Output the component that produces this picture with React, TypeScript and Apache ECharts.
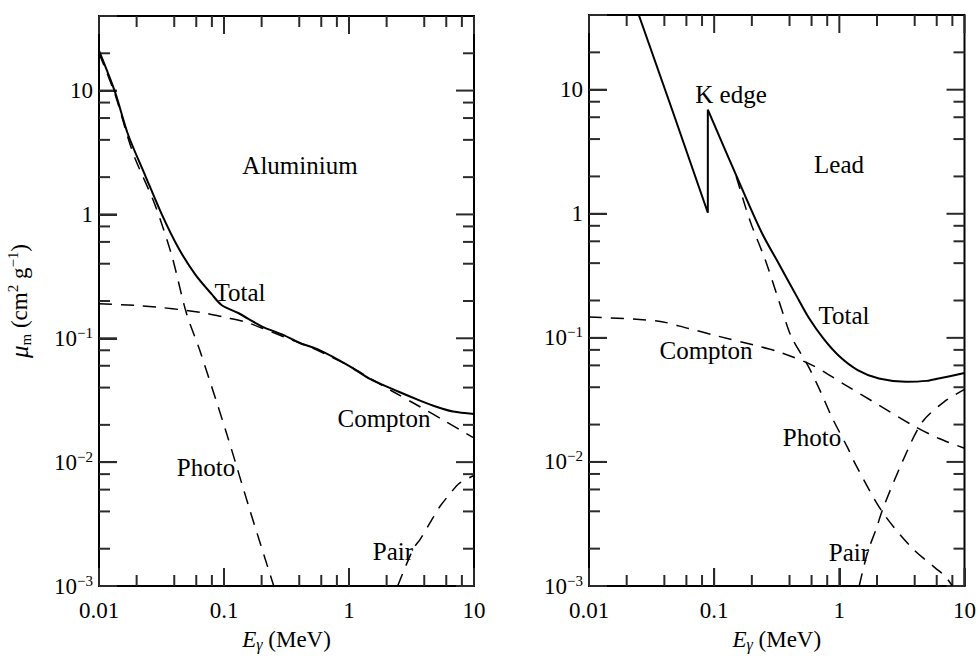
import React, { useEffect, useRef } from 'react';
import * as echarts from 'echarts';

// ---------- tick values ----------
const xMajorTicks = [0.01, 0.1, 1, 10];
const xMinorTicks = [0.02, 0.04, 0.06, 0.08, 0.2, 0.4, 0.6, 0.8, 2, 4, 6, 8];
const yMajorTicks = [0.001, 0.01, 0.1, 1, 10];
const yMinorTicks = [
  0.002, 0.004, 0.006, 0.008,
  0.02, 0.04, 0.06, 0.08,
  0.2, 0.4, 0.6, 0.8,
  2, 4, 6, 8, 20,
];
const X_MIN = 0.01;
const X_MAX = 10;
const Y_MIN = 0.001;
const Y_MAX = 40;

// ---------- Aluminium (E in MeV, mu_m in cm^2/g) ----------
const alTotal = [
  [0.01, 21], [0.0134, 9.8], [0.0171, 4.4], [0.0233, 2.09], [0.0318, 1.0],
  [0.043, 0.54], [0.0586, 0.33], [0.0797, 0.227], [0.096, 0.185], [0.13, 0.16],
  [0.2, 0.125], [0.3, 0.106], [0.4, 0.092], [0.586, 0.08], [1.0, 0.06],
  [1.47, 0.047], [2.5, 0.037], [3.7, 0.0314], [5.0, 0.028], [6.8, 0.0256], [10, 0.0245],
];
const alPhoto = [
  [0.01, 20], [0.0134, 9.4], [0.017, 4.2], [0.0194, 2.84], [0.028, 1.2],
  [0.038, 0.475], [0.05, 0.16], [0.064, 0.08], [0.105, 0.017], [0.161, 0.0041], [0.25, 0.001],
];
const alCompton = [
  [0.01, 0.19], [0.02, 0.184], [0.03, 0.178], [0.05, 0.168], [0.07, 0.16],
  [0.1, 0.148], [0.15, 0.135], [0.2, 0.121], [0.3, 0.103], [0.5, 0.084],
  [1, 0.06], [1.5, 0.047], [2.26, 0.037], [3.7, 0.028], [5.7, 0.0218], [8.7, 0.017], [10, 0.0157],
];
const alPair = [
  [2.45, 0.001], [3.27, 0.002], [3.7, 0.00237], [4.73, 0.0036], [5.35, 0.0044],
  [6.84, 0.006], [7.7, 0.0068], [10, 0.0078],
];

// ---------- Lead ----------
const pbTotalBelowEdge = [[0.025, 40], [0.0466, 6.7], [0.089, 1.02], [0.089, 6.9]];
const pbTotalAboveEdge = [
  [0.089, 6.9], [0.159, 1.78], [0.239, 0.71], [0.331, 0.39], [0.45, 0.222],
  [0.57, 0.145], [0.75, 0.098], [1.0, 0.071], [1.4, 0.055], [2.07, 0.047],
  [3.4, 0.0443], [5, 0.045], [6.2, 0.047], [10, 0.052],
];
const pbPhoto = [
  [0.15, 2.0], [0.18, 1.09], [0.2, 0.8], [0.26, 0.406], [0.374, 0.134],
  [0.42, 0.0986], [0.56, 0.06], [0.69, 0.039], [0.88, 0.0225], [1.17, 0.0129],
  [1.35, 0.0095], [2.19, 0.004], [3.8, 0.00203], [5.83, 0.0014], [7.0, 0.0012], [8, 0.001],
];
const pbCompton = [
  [0.01, 0.147], [0.035, 0.137], [0.0625, 0.119], [0.1, 0.105], [0.212, 0.087],
  [0.33, 0.077], [0.61, 0.06], [1.12, 0.0416], [2.07, 0.0287], [3.8, 0.0199],
  [6.2, 0.0155], [10, 0.0129],
];
const pbPair = [
  [1.44, 0.001], [1.69, 0.0019], [1.95, 0.0028], [2.25, 0.0043], [3.2, 0.0101],
  [4.6, 0.021], [6.9, 0.0306], [10, 0.0385],
];

// ---------- annotation labels ----------
const alLabels = [
  { text: 'Aluminium', x: 300, y: 165 },
  { text: 'Total', x: 240, y: 292 },
  { text: 'Compton', x: 384, y: 418 },
  { text: 'Photo', x: 206, y: 467 },
  { text: 'Pair', x: 393, y: 551 },
];
const pbLabels = [
  { text: 'K edge', x: 731, y: 94 },
  { text: 'Lead', x: 839, y: 164 },
  { text: 'Total', x: 844, y: 315 },
  { text: 'Compton', x: 706, y: 350 },
  { text: 'Photo', x: 812, y: 437 },
  { text: 'Pair', x: 849, y: 552 },
];

const FONT = 'Liberation Serif';
const INK = '#000';
const TICK = '#2b2b2b';

function isDecade(v: number) {
  const e = Math.log10(v);
  return Math.abs(e - Math.round(e)) < 1e-6;
}
function fmtX(v: number) {
  if (!isDecade(v)) return '';
  return String(Number(v.toPrecision(3)));
}
function fmtY(v: number) {
  if (!isDecade(v)) return '';
  const e = Math.round(Math.log10(v));
  if (e === 1) return '10';
  if (e === 0) return '1';
  return '{b|10}{s|\u2212' + Math.abs(e) + '}';
}

const yRich = {
  b: { fontFamily: FONT, fontSize: 23, color: INK, lineHeight: 26 },
  s: { fontFamily: FONT, fontSize: 15, color: INK, lineHeight: 15, verticalAlign: 'top' },
};

function xAxis(g: number) {
  return {
    type: 'log', min: X_MIN, max: X_MAX, gridIndex: g, position: 'bottom',
    splitLine: { show: false },
    axisLine: { show: true, lineStyle: { color: INK, width: 2 } },
    axisTick: { show: true, inside: true, length: 18, lineStyle: { color: TICK, width: 2 } },
    axisLabel: { show: true, margin: 13, color: INK, fontFamily: FONT, fontSize: 23, formatter: fmtX },
    name: '{e|E}{g|\u03b3}{n| (MeV)}',
    nameLocation: 'middle',
    nameGap: 40,
    nameTextStyle: {
      rich: {
        e: { fontFamily: FONT, fontSize: 23, fontStyle: 'italic', color: INK, lineHeight: 26 },
        g: { fontFamily: FONT, fontSize: 16, fontStyle: 'italic', color: INK, lineHeight: 16, verticalAlign: 'bottom' },
        n: { fontFamily: FONT, fontSize: 23, color: INK, lineHeight: 26 },
      },
    },
  };
}

function yAxis(g: number, withName: boolean) {
  return {
    type: 'log', min: Y_MIN, max: Y_MAX, gridIndex: g, position: 'left',
    splitLine: { show: false },
    axisLine: { show: true, lineStyle: { color: INK, width: 2 } },
    axisTick: { show: true, inside: true, length: 18, lineStyle: { color: TICK, width: 2 } },
    axisLabel: { show: true, margin: 6, color: INK, fontFamily: FONT, fontSize: 23, formatter: fmtY, rich: yRich },
    ...(withName
      ? {
          name: '{mu|\u03bc}{sub|m}{n| (cm}{sup|2}{n| g}{sup|\u22121}{n|)}',
          nameLocation: 'middle',
          nameGap: 66,
          nameRotate: 90,
          nameTextStyle: {
            rich: {
              mu: { fontFamily: FONT, fontSize: 25, fontStyle: 'italic', color: INK, lineHeight: 28 },
              sub: { fontFamily: FONT, fontSize: 15, color: INK, lineHeight: 15, verticalAlign: 'bottom' },
              sup: { fontFamily: FONT, fontSize: 15, color: INK, lineHeight: 15, verticalAlign: 'top' },
              n: { fontFamily: FONT, fontSize: 23, color: INK, lineHeight: 28 },
            },
          },
        }
      : {}),
  };
}

// Tick marks on all four frame sides, positioned through the axis scales.
function xTickSeries(g: number, values: number[], len: number) {
  return {
    type: 'custom',
    xAxisIndex: g,
    yAxisIndex: g,
    data: values.map((v) => [v, 1]),
    renderItem: (_p: any, api: any) => {
      const v = api.value(0);
      const b = api.coord([v, Y_MIN]);
      const t = api.coord([v, Y_MAX]);
      return {
        type: 'group',
        children: [
          { type: 'rect', shape: { x: b[0] - 1, y: b[1] - len, width: 2, height: len }, style: { fill: TICK } },
          { type: 'rect', shape: { x: t[0] - 1, y: t[1], width: 2, height: len }, style: { fill: TICK } },
        ],
      };
    },
  };
}
function yTickSeries(g: number, values: number[], len: number) {
  return {
    type: 'custom',
    xAxisIndex: g,
    yAxisIndex: g,
    data: values.map((v) => [1, v]),
    renderItem: (_p: any, api: any) => {
      const v = api.value(1);
      const l = api.coord([X_MIN, v]);
      const r = api.coord([X_MAX, v]);
      return {
        type: 'group',
        children: [
          { type: 'rect', shape: { x: l[0], y: l[1] - 1, width: len, height: 2 }, style: { fill: TICK } },
          { type: 'rect', shape: { x: r[0] - len, y: r[1] - 1, width: len, height: 2 }, style: { fill: TICK } },
        ],
      };
    },
  };
}

function curve(data: number[][], g: number, dashed: boolean, smooth: number | boolean = 0.3) {
  return {
    type: 'line',
    xAxisIndex: g,
    yAxisIndex: g,
    data,
    showSymbol: false,
    symbol: 'none',
    smooth,
    clip: true,
    lineStyle: dashed
      ? { color: INK, width: 1.5, type: [13, 9] }
      : { color: INK, width: 2 },
  };
}

function labelGraphics(list: { text: string; x: number; y: number }[]) {
  return list.map((l) => ({
    type: 'text',
    x: l.x,
    y: l.y,
    style: {
      text: l.text,
      fill: INK,
      fontFamily: FONT,
      fontSize: 25,
      textAlign: 'center',
      textVerticalAlign: 'middle',
    },
  }));
}

export default function App() {
  const ref = useRef<HTMLDivElement>(null);
  useEffect(() => {
    if (!ref.current) return;
    const chart = echarts.init(ref.current, undefined, { renderer: 'svg' });
    const series: any[] = [
      curve(alTotal, 0, false),
      curve(alPhoto, 0, true),
      curve(alCompton, 0, true),
      curve(alPair, 0, true),
      curve(pbTotalBelowEdge, 1, false, false),
      curve(pbTotalAboveEdge, 1, false),
      curve(pbPhoto, 1, true),
      curve(pbCompton, 1, true),
      curve(pbPair, 1, true),
    ];
    [0, 1].forEach((g) => {
      series.push(xTickSeries(g, xMajorTicks, 18));
      series.push(xTickSeries(g, xMinorTicks, 11));
      series.push(yTickSeries(g, yMajorTicks, 18));
      series.push(yTickSeries(g, yMinorTicks, 11));
    });
    chart.setOption({
      animation: false,
      backgroundColor: '#fff',
      grid: [
        { left: 99, top: 16, width: 375, height: 573, show: true, borderColor: INK, borderWidth: 2, backgroundColor: 'transparent' },
        { left: 589, top: 15, width: 377, height: 573, show: true, borderColor: INK, borderWidth: 2, backgroundColor: 'transparent' },
      ],
      xAxis: [xAxis(0), xAxis(1)],
      yAxis: [yAxis(0, true), yAxis(1, false)],
      series,
      graphic: [...labelGraphics(alLabels), ...labelGraphics(pbLabels)],
    });
    return () => chart.dispose();
  }, []);
  return (
    <div
      ref={ref}
      style={{ position: 'fixed', left: 0, top: 0, width: 979, height: 657, background: '#fff' }}
    />
  );
}
